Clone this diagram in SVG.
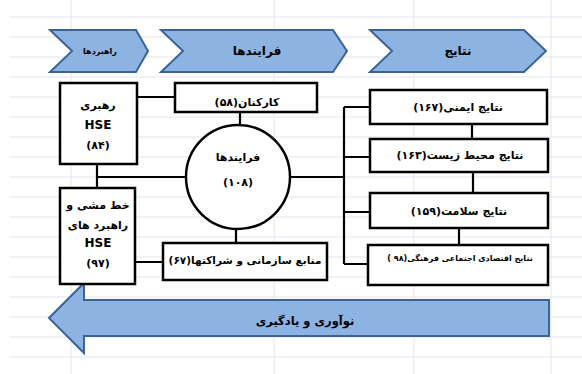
<svg xmlns="http://www.w3.org/2000/svg" width="582" height="374" viewBox="0 0 582 374">
<style>
.grid{stroke:#e3e5ee;stroke-width:1}
.chev{fill:#8db3e2;stroke:#3b6496;stroke-width:2;stroke-linejoin:miter}
.box{fill:#fff;stroke:#000;stroke-width:2.5}
.con{stroke:#000;stroke-width:2.2;fill:none}
text{font-family:"DejaVu Sans",sans-serif;font-weight:bold;fill:#000;text-anchor:middle}
.rtl{direction:rtl}
.t12{font-size:11px}
.t13{font-size:12px}
.t8{font-size:8px}
</style>
<rect width="582" height="374" fill="#fff"/>
<g id="grid">
<path class="grid" d="M10,17H582M10,37H582M10,57H582M10,77H582M10,97H582M10,117H582M10,137H582M10,157H582M10,177H582M10,197H582M10,217H582M10,237H582M10,257H582M10,277H582M10,297H582M10,317H582M10,337H582M10,357H582M71,0V374M274,0V374M414,0V374M551,0V374"/>
</g>
<g id="chevron-strategies">
<polygon class="chev" points="50,30 136,30 148,51 136,72 50,72 72,51"/>
<text class="rtl t8" x="100" y="54">راهبردها</text>
</g>
<g id="chevron-processes">
<polygon class="chev" points="161,30 333,30 347,51 333,72 161,72 183,51"/>
<text class="rtl t13" x="257" y="55">فرایندها</text>
</g>
<g id="chevron-results">
<polygon class="chev" points="370,30 524,30 546,51 524,72 370,72 392,51"/>
<text class="rtl t13" x="458" y="55">نتایج</text>
</g>
<g id="arrow-learning">
<polygon class="chev" points="49,318 84,283 84,300 549,300 549,336 84,336 84,353"/>
<text class="rtl" font-size="11.5" x="305" y="325">نوآوری و یادگیری</text>
</g>
<g id="connectors">
<path class="con" d="M137,97H175M240,112V125M97,164V188M97,177H186M290,177H344M344,107V264M344,107H370M344,157H370M344,212H370M344,264H368M472,124V139M473,172V193M459,228V245M236,229V243M135,262H163"/>
</g>
<g id="leadership">
<rect class="box" x="60" y="83" width="77" height="81"/>
<text class="rtl t12" x="98" y="109">رهبری</text>
<text class="t13" x="98" y="129">HSE</text>
<text class="t12" x="98" y="149">(۸۴)</text>
</g>
<g id="staff">
<rect class="box" x="175" y="83" width="142" height="29"/>
<text class="rtl t12" x="247" y="106">کارکنان(۵۸)</text>
</g>
<g id="processes">
<circle class="box" cx="238" cy="177" r="52"/>
<text class="rtl t12" x="238" y="161">فرایندها</text>
<text class="t12" x="238" y="186">(۱۰۸)</text>
</g>
<g id="policy">
<rect class="box" x="60" y="188" width="75" height="96"/>
<text class="rtl t12" x="98" y="209">خط مشی و</text>
<text class="rtl t12" x="98" y="229">راهبرد های</text>
<text class="t13" x="98" y="247">HSE</text>
<text class="t12" x="98" y="267">(۹۷)</text>
</g>
<g id="resources">
<rect class="box" x="163" y="243" width="164" height="37"/>
<text class="rtl" font-size="10.5" x="245" y="264">منابع سازمانی و شراکتها(۶۷)</text>
</g>
<g id="safety">
<rect class="box" x="370" y="90" width="177" height="34"/>
<text class="rtl t12" x="458" y="111">نتایج ایمنی(۱۶۷)</text>
</g>
<g id="environment">
<rect class="box" x="370" y="139" width="178" height="33"/>
<text class="rtl t12" x="460" y="159">نتایج محیط زیست(۱۶۳)</text>
</g>
<g id="health">
<rect class="box" x="370" y="193" width="178" height="35"/>
<text class="rtl t12" x="459" y="215">نتایج سلامت(۱۵۹)</text>
</g>
<g id="socioeconomic">
<rect class="box" x="368" y="245" width="180" height="40"/>
<text class="rtl t8" x="460" y="261">نتایج اقتصادی اجتماعی فرهنگی(۹۸ )</text>
</g>
</svg>
